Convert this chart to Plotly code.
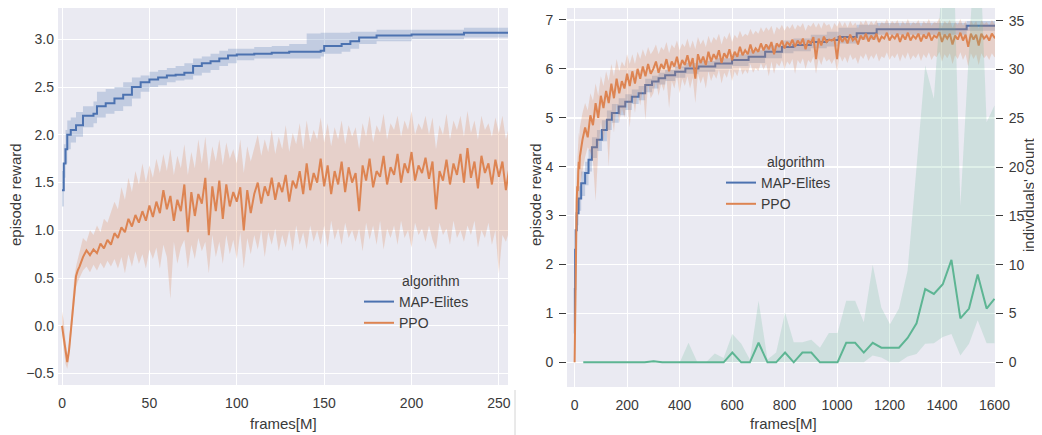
import plotly.graph_objects as go

# ---------------- data: left panel ----------------
left_me_x = [0, 1, 2, 3, 5, 8, 12, 18, 20, 25,
             30, 35, 40, 45, 50, 55, 60, 65, 70, 75,
             80, 85, 90, 95, 100, 110, 120, 130, 140, 148,
             150, 160, 165, 170, 180, 200, 230, 256]
left_me_y = [1.42, 1.70, 1.85, 2.00, 2.05, 2.10, 2.20, 2.22, 2.30, 2.33,
             2.38, 2.42, 2.50, 2.55, 2.58, 2.60, 2.62, 2.63, 2.65, 2.72,
             2.75, 2.77, 2.80, 2.83, 2.84, 2.85, 2.86, 2.87, 2.87, 2.88,
             2.93, 2.95, 2.98, 3.02, 3.04, 3.05, 3.07, 3.07]
left_me_hi = [1.62, 1.90, 2.05, 2.15, 2.18, 2.24, 2.30, 2.35, 2.45, 2.48,
              2.50, 2.55, 2.60, 2.62, 2.66, 2.68, 2.70, 2.72, 2.75, 2.80,
              2.82, 2.85, 2.88, 2.90, 2.90, 2.92, 2.93, 2.95, 3.06, 3.07,
              3.07, 3.07, 3.08, 3.08, 3.10, 3.10, 3.12, 3.20]
left_me_lo = [1.25, 1.55, 1.70, 1.85, 1.92, 1.98, 2.08, 2.12, 2.18, 2.22,
              2.25, 2.30, 2.38, 2.45, 2.50, 2.52, 2.55, 2.57, 2.58, 2.62,
              2.65, 2.68, 2.72, 2.75, 2.78, 2.80, 2.80, 2.80, 2.80, 2.82,
              2.85, 2.87, 2.90, 2.95, 2.98, 3.00, 3.02, 3.00]

left_ppo_x = list(range(0, 10)) + list(range(10, 257, 2))
left_ppo_y = [0.00, -0.12, -0.28, -0.38, -0.26, -0.05, 0.18, 0.38, 0.52, 0.58,
              0.62, 0.72, 0.79, 0.74, 0.80, 0.76, 0.86, 0.81, 0.90, 0.85,
              0.97, 0.92, 1.03, 0.98, 1.12, 1.04, 1.16, 1.08, 1.20, 1.10,
              1.26, 1.14, 1.30, 1.18, 1.42, 1.22, 1.36, 1.10, 1.32, 1.20,
              1.48, 0.98, 1.40, 1.15, 1.38, 1.28, 1.55, 0.95, 1.46, 1.20,
              1.52, 1.12, 1.48, 1.25, 1.40, 1.30, 1.45, 1.00, 1.42, 1.18,
              1.38, 1.50, 1.28, 1.46, 1.36, 1.55, 1.32, 1.50, 1.40, 1.58,
              1.30, 1.52, 1.44, 1.62, 1.38, 1.70, 1.42, 1.60, 1.50, 1.75,
              1.46, 1.68, 1.38, 1.62, 1.48, 1.72, 1.40, 1.66, 1.50, 1.60,
              1.20, 1.68, 1.52, 1.75, 1.45, 1.62, 1.56, 1.78, 1.48, 1.66,
              1.58, 1.80, 1.50, 1.70, 1.60, 1.82, 1.52, 1.68, 1.60, 1.76,
              1.54, 1.72, 1.22, 1.62, 1.52, 1.74, 1.48, 1.70, 1.58, 1.80,
              1.50, 1.86, 1.55, 1.72, 1.44, 1.78, 1.60, 1.70, 1.48, 1.74,
              1.56, 1.72, 1.42, 1.66]
left_ppo_hi = [0.15, 0.05, -0.15, -0.30, -0.18, 0.05, 0.30, 0.50, 0.62, 0.70,
               0.78, 0.92, 0.88, 1.00, 0.95, 1.05, 0.98, 1.12, 1.08, 1.20,
               1.30, 1.22, 1.45, 1.32, 1.55, 1.40, 1.62, 1.48, 1.70, 1.50,
               1.68, 1.55, 1.75, 1.60, 1.80, 1.62, 1.85, 1.58, 1.78, 1.65,
               1.90, 1.58, 1.82, 1.65, 1.95, 1.70, 1.98, 1.62, 1.88, 1.72,
               1.95, 1.68, 1.92, 1.75, 1.85, 1.70, 1.95, 1.60, 1.88, 1.72,
               1.86, 2.00, 1.78, 1.95, 1.82, 2.05, 1.80, 1.98, 1.85, 2.10,
               1.82, 2.02, 1.90, 2.12, 1.85, 2.15, 1.92, 2.05, 1.95, 2.18,
               1.92, 2.12, 1.88, 2.08, 1.95, 2.15, 1.90, 2.10, 1.98, 2.08,
               1.85, 2.12, 1.98, 2.20, 1.92, 2.10, 2.02, 2.22, 1.95, 2.12,
               2.05, 2.20, 1.98, 2.15, 2.05, 2.25, 2.00, 2.12, 2.05, 2.20,
               2.00, 2.18, 1.85, 2.10, 2.00, 2.22, 1.95, 2.15, 2.05, 2.20,
               1.98, 2.25, 2.02, 2.15, 1.95, 2.20, 2.05, 2.12, 1.98, 2.18,
               2.02, 2.20, 1.95, 2.10]
left_ppo_lo = [-0.10, -0.25, -0.40, -0.45, -0.35, -0.15, 0.05, 0.25, 0.40, 0.46,
               0.50, 0.58, 0.62, 0.56, 0.64, 0.58, 0.66, 0.60, 0.68, 0.62,
               0.70, 0.60, 0.72, 0.55, 0.75, 0.62, 0.78, 0.65, 0.75, 0.60,
               0.80, 0.70, 0.82, 0.60, 0.85, 0.72, 0.28, 0.88, 0.65, 0.82,
               0.90, 0.60, 0.85, 0.70, 0.92, 0.78, 0.88, 0.55, 0.95, 0.72,
               0.88, 0.65, 0.95, 0.75, 0.90, 0.70, 0.98, 0.60, 0.92, 0.75,
               0.95, 0.80, 1.00, 0.72, 0.98, 0.85, 1.02, 0.78, 0.95, 0.82,
               1.00, 0.78, 1.05, 0.85, 0.98, 0.80, 1.05, 0.88, 1.00, 0.85,
               1.05, 0.82, 1.10, 0.90, 1.02, 0.85, 1.08, 0.92, 1.00, 0.88,
               1.02, 0.78, 1.08, 0.90, 1.05, 0.85, 1.10, 0.80, 1.02, 0.92,
               1.05, 0.85, 1.10, 0.92, 1.00, 0.82, 1.08, 0.95, 1.02, 0.88,
               1.05, 0.90, 0.80, 1.08, 0.95, 1.02, 0.85, 1.10, 0.92, 1.00,
               0.88, 1.05, 0.95, 1.10, 0.82, 1.00, 0.92, 1.08, 0.85, 1.00,
               0.55, 0.95, 0.88, 1.00]

# ---------------- data: right panel ----------------
right_me_x = [0, 1, 2, 4, 8, 15, 25, 40, 53, 66,
              85, 104, 123, 142, 168, 193, 218, 244, 269, 295,
              320, 345, 383, 422, 472, 536, 600, 663, 726, 790,
              834, 900, 961, 1006, 1075, 1151, 1494, 1610]
right_me_y = [0.59, 1.50, 2.30, 2.70, 3.05, 3.35, 3.66, 3.87, 4.14, 4.40,
              4.55, 4.75, 4.96, 5.10, 5.23, 5.33, 5.43, 5.50, 5.67, 5.74,
              5.81, 5.87, 5.94, 6.01, 6.05, 6.11, 6.18, 6.25, 6.35, 6.45,
              6.49, 6.55, 6.59, 6.65, 6.73, 6.81, 6.88, 6.88]
right_me_hi = [0.90, 1.90, 2.60, 3.00, 3.30, 3.60, 3.90, 4.10, 4.35, 4.60,
               4.75, 4.95, 5.15, 5.28, 5.40, 5.48, 5.58, 5.65, 5.80, 5.86,
               5.92, 5.98, 6.05, 6.12, 6.16, 6.22, 6.30, 6.38, 6.48, 6.58,
               6.62, 6.70, 6.76, 6.84, 6.90, 6.94, 6.98, 7.00]
right_me_lo = [0.30, 1.10, 2.00, 2.40, 2.80, 3.10, 3.40, 3.62, 3.90, 4.18,
               4.32, 4.52, 4.75, 4.90, 5.05, 5.16, 5.28, 5.36, 5.52, 5.60,
               5.68, 5.75, 5.82, 5.90, 5.94, 6.00, 6.06, 6.12, 6.22, 6.32,
               6.36, 6.42, 6.46, 6.52, 6.60, 6.70, 6.78, 6.80]

right_ppo_x = list(range(0, 20, 2)) + list(range(20, 1611, 10))
right_ppo_y = [0.00, 1.20, 2.40, 3.00, 3.30, 3.60, 3.50, 3.90, 4.10, 3.95,
               4.20, 4.55, 4.80, 4.60, 5.05, 4.85, 5.30, 5.00, 5.45, 5.20,
               5.55, 5.30, 5.70, 5.40, 5.80, 5.50, 5.75, 5.60, 5.90, 5.65,
               5.95, 5.70, 6.00, 5.80, 6.05, 5.85, 6.10, 5.90, 6.00, 6.15,
               5.92, 6.10, 6.00, 6.20, 5.95, 6.15, 6.05, 6.25, 6.00, 6.18,
               6.08, 6.28, 6.05, 6.22, 5.80, 6.30, 6.12, 6.25, 6.08, 6.35,
               6.15, 6.30, 6.20, 6.38, 6.12, 6.32, 6.22, 6.40, 6.18, 6.35,
               6.25, 6.45, 6.28, 6.38, 6.30, 6.50, 6.32, 6.42, 6.35, 6.52,
               6.38, 6.50, 6.40, 6.55, 6.30, 6.52, 6.45, 6.58, 6.42, 6.55,
               6.48, 6.60, 6.45, 6.58, 6.50, 6.62, 6.40, 6.58, 6.52, 6.65,
               6.20, 6.62, 6.48, 6.66, 6.55, 6.60, 6.58, 6.62, 6.20, 6.68,
               6.55, 6.65, 6.52, 6.70, 6.58, 6.64, 6.50, 6.68, 6.60, 6.72,
               6.56, 6.68, 6.60, 6.72, 6.55, 6.66, 6.62, 6.74, 6.58, 6.68,
               6.62, 6.72, 6.55, 6.70, 6.60, 6.74, 6.58, 6.68, 6.62, 6.72,
               6.56, 6.70, 6.62, 6.74, 6.58, 6.68, 6.64, 6.75, 6.55, 6.70,
               6.62, 6.72, 6.50, 6.68, 6.60, 6.74, 6.58, 6.70, 6.45, 6.72,
               6.60, 6.70, 6.48, 6.72, 6.62, 6.68, 6.58, 6.72, 6.64, 6.66]
right_ppo_hi = [0.20, 1.80, 3.00, 3.60, 3.90, 4.20, 4.10, 4.50, 4.70, 4.60,
                4.80, 5.10, 5.30, 5.15, 5.50, 5.35, 5.70, 5.45, 5.85, 5.65,
                5.95, 5.75, 6.10, 5.85, 6.20, 5.95, 6.15, 6.05, 6.30, 6.10,
                6.30, 6.10, 6.35, 6.20, 6.40, 6.25, 6.45, 6.30, 6.38, 6.50,
                6.30, 6.45, 6.38, 6.55, 6.32, 6.50, 6.42, 6.58, 6.38, 6.52,
                6.45, 6.62, 6.42, 6.58, 6.40, 6.65, 6.50, 6.60, 6.45, 6.68,
                6.52, 6.65, 6.58, 6.72, 6.50, 6.68, 6.60, 6.75, 6.55, 6.70,
                6.62, 6.78, 6.65, 6.72, 6.68, 6.82, 6.70, 6.78, 6.72, 6.85,
                6.75, 6.85, 6.78, 6.88, 6.70, 6.86, 6.80, 6.90, 6.78, 6.88,
                6.82, 6.92, 6.80, 6.90, 6.85, 6.94, 6.78, 6.90, 6.86, 6.95,
                6.84, 6.94, 6.82, 6.96, 6.88, 6.92, 6.80, 6.94, 6.86, 6.98,
                6.86, 6.96, 6.84, 6.98, 6.88, 6.95, 6.82, 6.98, 6.90, 7.00,
                6.88, 6.98, 6.90, 7.00, 6.86, 6.96, 6.92, 7.02, 6.88, 6.98,
                6.92, 7.00, 6.86, 6.98, 6.90, 7.02, 6.88, 6.96, 6.92, 7.00,
                6.86, 6.98, 6.92, 7.02, 6.88, 6.96, 6.94, 7.04, 6.86, 6.98,
                6.92, 7.00, 6.84, 6.96, 6.90, 7.02, 6.88, 6.98, 6.80, 7.00,
                6.90, 6.98, 6.82, 7.00, 6.92, 6.96, 6.88, 7.00, 6.92, 6.94]
right_ppo_lo = [-0.20, 0.50, 1.50, 2.20, 2.60, 2.90, 2.70, 3.20, 3.40, 3.10,
                3.60, 3.90, 4.20, 4.40, 4.30, 4.10, 3.30, 4.30, 4.90, 4.50,
                5.00, 4.00, 5.10, 4.70, 5.30, 4.90, 5.20, 5.00, 5.40, 4.80,
                5.50, 5.10, 5.55, 5.25, 5.60, 4.95, 5.70, 5.40, 5.50, 5.75,
                5.45, 5.70, 5.55, 5.80, 5.20, 5.75, 5.60, 5.85, 5.50, 5.80,
                5.65, 5.85, 5.60, 5.82, 5.30, 5.90, 5.70, 5.85, 5.60, 5.95,
                5.75, 5.90, 5.80, 5.98, 5.70, 5.92, 5.82, 6.00, 5.75, 5.95,
                5.85, 6.05, 5.88, 5.98, 5.90, 6.10, 5.92, 6.02, 5.95, 6.12,
                5.98, 6.10, 5.85, 6.15, 5.90, 6.12, 6.05, 6.18, 6.00, 6.15,
                6.08, 6.20, 5.90, 6.18, 6.10, 6.22, 6.00, 6.18, 6.12, 6.25,
                5.90, 6.22, 6.08, 6.26, 6.15, 6.20, 6.10, 6.22, 5.95, 6.28,
                6.15, 6.25, 6.12, 6.30, 6.18, 6.24, 6.10, 6.28, 6.20, 6.32,
                6.16, 6.28, 6.20, 6.32, 6.15, 6.26, 6.22, 6.34, 6.18, 6.28,
                6.22, 6.32, 6.15, 6.30, 6.20, 6.34, 6.18, 6.28, 6.22, 6.32,
                6.16, 6.30, 6.22, 6.34, 6.18, 6.28, 6.24, 6.35, 6.15, 6.30,
                6.22, 6.32, 6.10, 6.28, 6.20, 6.34, 6.18, 6.30, 6.05, 6.32,
                6.20, 6.30, 6.08, 6.32, 6.22, 6.28, 6.18, 6.32, 6.24, 6.26]

count_x = [33, 67, 100, 134, 167, 200, 234, 267, 301, 334,
           367, 401, 434, 468, 501, 534, 568, 601, 635, 668,
           701, 735, 768, 802, 835, 868, 902, 935, 969, 1002,
           1035, 1069, 1102, 1136, 1169, 1202, 1236, 1269, 1303, 1336,
           1369, 1403, 1436, 1470, 1503, 1536, 1570, 1600]
count_y = [0, 0, 0, 0, 0, 0, 0, 0, 0.1, 0,
           0, 0, 0, 0, 0, 0, 0, 1, 0, 0,
           2, 0, 0, 1, 0, 1, 1, 0, 0, 0,
           2, 2, 1, 2, 1.5, 1.5, 1.5, 2.5, 4, 7.5,
           7, 8, 10.5, 4.5, 5.5, 9, 5.5, 6.5]
count_hi = [0, 0, 0, 0, 0, 0, 0, 0, 0.2, 0,
            0, 0, 2, 0, 0, 0.9, 0.45, 2.9, 1.9, 0.3,
            6.3, 0.3, 1.0, 5.1, 2.05, 2.05, 2.3, 1.5, 3.0, 3.0,
            6.3, 6.3, 4.1, 10.0, 5.6, 3.9, 5.5, 9.4, 20, 30.4,
            27, 40, 50, 16, 32, 48, 24.6, 26.3]
count_lo = [0, 0, 0, 0, 0, 0, 0, 0, 0, 0,
            0, 0, 0, 0, 0, 0, 0, 0, 0, 0,
            0, 0, 0, 0, 0, 0, 0, 0, 0, 0,
            0, 0, 0, 0.7, 0.5, 0, 0, 0.6, 0.85, 1.9,
            1.95, 2.6, 2.9, 0.7, 1.9, 4.3, 1.95, 1.95]

left_xticks = [0, 50, 100, 150, 200, 250]
left_yticks = [-0.5, 0.0, 0.5, 1.0, 1.5, 2.0, 2.5, 3.0]
left_yticktext = ["\u22120.5", "0.0", "0.5", "1.0", "1.5", "2.0", "2.5", "3.0"]
right_xticks = [0, 200, 400, 600, 800, 1000, 1200, 1400, 1600]
right_yticks = [0, 1, 2, 3, 4, 5, 6, 7]
count_ticks = [0, 5, 10, 15, 20, 25, 30, 35]

# ---------------- styling ----------------
BLUE = "#4C72B0"
ORANGE = "#DD8452"
GREEN = "#5DB593"
BLUE_BAND = "rgba(76,114,176,0.25)"
ORANGE_BAND = "rgba(221,132,82,0.25)"
GREEN_BAND = "rgba(93,181,147,0.20)"
TXT = "#3a3a3a"
FONT = "Liberation Sans, Arial, sans-serif"
OFF = 8                      # page body margin of the rendered html
W, H = 1042 - OFF, 435 - OFF


def px_x(p):
    return min(1.0, max(0.0, (p - OFF) / W))


def px_y(p):
    return min(1.0, max(0.0, 1 - (p - OFF) / H))


fig = go.Figure()


def band(x, lo, hi, color, xa, ya, shape="linear"):
    fig.add_trace(go.Scatter(x=x, y=lo, mode="lines", line=dict(width=0, shape=shape),
                             showlegend=False, hoverinfo="skip", xaxis=xa, yaxis=ya))
    fig.add_trace(go.Scatter(x=x, y=hi, mode="lines", line=dict(width=0, shape=shape),
                             fill="tonexty", fillcolor=color, showlegend=False,
                             hoverinfo="skip", xaxis=xa, yaxis=ya))


# left panel
band(left_me_x, left_me_lo, left_me_hi, BLUE_BAND, "x", "y", "hv")
fig.add_trace(go.Scatter(x=left_me_x, y=left_me_y, mode="lines", name="MAP-Elites",
                         line=dict(color=BLUE, width=2, shape="hv"), xaxis="x", yaxis="y",
                         legend="legend"))
band(left_ppo_x, left_ppo_lo, left_ppo_hi, ORANGE_BAND, "x", "y")
fig.add_trace(go.Scatter(x=left_ppo_x, y=left_ppo_y, mode="lines", name="PPO",
                         line=dict(color=ORANGE, width=2), xaxis="x", yaxis="y",
                         legend="legend"))

# right panel
band(right_me_x, right_me_lo, right_me_hi, BLUE_BAND, "x2", "y2", "hv")
fig.add_trace(go.Scatter(x=right_me_x, y=right_me_y, mode="lines", name="MAP-Elites",
                         line=dict(color=BLUE, width=2, shape="hv"), xaxis="x2", yaxis="y2",
                         legend="legend2"))
band(right_ppo_x, right_ppo_lo, right_ppo_hi, ORANGE_BAND, "x2", "y2")
fig.add_trace(go.Scatter(x=right_ppo_x, y=right_ppo_y, mode="lines", name="PPO",
                         line=dict(color=ORANGE, width=2), xaxis="x2", yaxis="y2",
                         legend="legend2"))
band(count_x, count_lo, count_hi, GREEN_BAND, "x2", "y3")
fig.add_trace(go.Scatter(x=count_x, y=count_y, mode="lines", name="count",
                         line=dict(color=GREEN, width=2), xaxis="x2", yaxis="y3",
                         showlegend=False))

axis_common = dict(showgrid=True, gridcolor="white", gridwidth=1.3, zeroline=False,
                   showline=False, tickfont=dict(family=FONT, size=14, color=TXT))
legend_common = dict(xanchor="left", yanchor="top", bgcolor="rgba(0,0,0,0)",
                     font=dict(family=FONT, size=14, color=TXT),
                     tracegroupgap=0, itemwidth=30, traceorder="normal")

# visible plot tops are cut by the page offset, so ranges end at the visible edge
fig.update_layout(
    width=W, height=H,
    margin=dict(l=0, r=0, t=0, b=0, autoexpand=False),
    paper_bgcolor="white", plot_bgcolor="#EAEAF2",
    font=dict(family=FONT, size=14, color=TXT),
    xaxis=dict(domain=[px_x(58), px_x(508)], range=[-2.3, 255.2], tickvals=left_xticks,
               anchor="y", ticks="", ticklabelstandoff=8, **axis_common),
    yaxis=dict(domain=[px_y(385), 1.0], range=[-0.62, 3.328], tickvals=left_yticks,
               ticktext=left_yticktext, anchor="x", ticks="", ticklabelstandoff=3,
               **axis_common),
    xaxis2=dict(domain=[px_x(567), px_x(995)], range=[-29, 1602], tickvals=right_xticks,
                anchor="y2", ticks="", ticklabelstandoff=8, **axis_common),
    yaxis2=dict(domain=[px_y(387), 1.0], range=[-0.505, 7.245], tickvals=right_yticks,
                anchor="x2", ticks="outside", ticklen=7, tickwidth=1.3, tickcolor=TXT,
                ticklabelstandoff=3, **axis_common),
    yaxis3=dict(range=[-2.53, 36.3], tickvals=count_ticks, overlaying="y2", side="right",
                anchor="x2", ticks="outside", ticklen=7, tickwidth=1.3, tickcolor=TXT,
                ticklabelstandoff=3, **axis_common),
    legend=dict(x=px_x(359), y=px_y(286), **legend_common),
    legend2=dict(x=px_x(721), y=px_y(167), **legend_common),
)

ann = dict(xref="paper", yref="paper", showarrow=False, xanchor="center", yanchor="middle",
           font=dict(family=FONT, size=15, color=TXT))
fig.add_annotation(text="episode reward", x=px_x(15), y=px_y(195), textangle=-90, **ann)
fig.add_annotation(text="frames[M]", x=px_x(283), y=px_y(423), **ann)
fig.add_annotation(text="episode reward", x=px_x(535), y=px_y(195), textangle=-90, **ann)
fig.add_annotation(text="frames[M]", x=px_x(783), y=px_y(423), **ann)
fig.add_annotation(text="individuals' count", x=px_x(1028), y=px_y(195), textangle=-90, **ann)
leg_ann = dict(xref="paper", yref="paper", showarrow=False, xanchor="left", yanchor="middle",
               font=dict(family=FONT, size=14, color=TXT))
fig.add_annotation(text="algorithm", x=px_x(400), y=px_y(281), **leg_ann)
fig.add_annotation(text="algorithm", x=px_x(765), y=px_y(162), **leg_ann)

# faint screenshot border seen between the two panels
fig.add_shape(type="line", xref="paper", yref="paper", x0=px_x(515), x1=px_x(515),
              y0=px_y(390), y1=0, line=dict(color="#d4d4d4", width=1))

fig.write_html("out.html")
